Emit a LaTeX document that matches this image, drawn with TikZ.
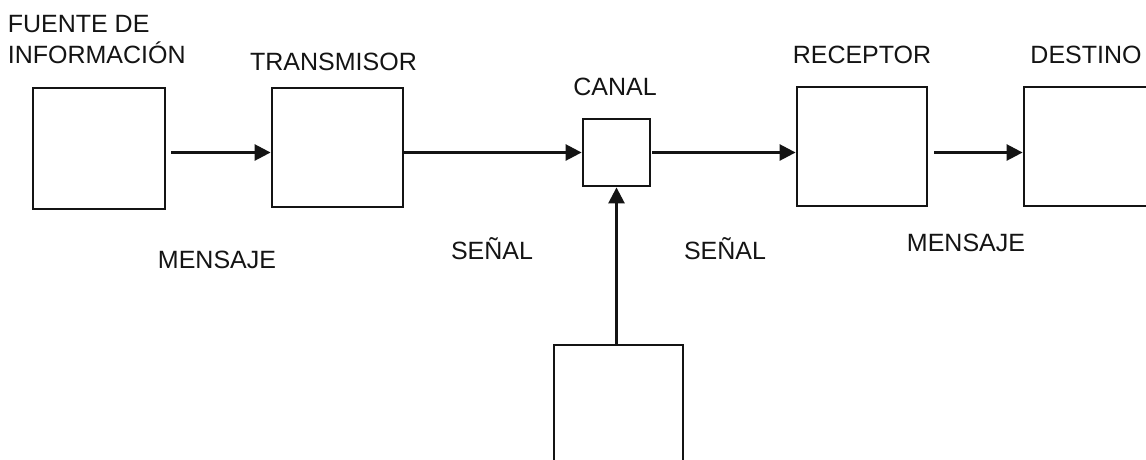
\documentclass[tikz,border=0pt]{standalone}
\usepackage{fontspec}
\setmainfont{Liberation Sans}
\usetikzlibrary{arrows.meta,positioning}
\definecolor{ink}{HTML}{141414}
\tikzset{
  blk/.style={draw=ink,line width=2.8pt,fill=white,inner sep=0pt},
  lbl/.style={inner sep=0pt,font=\fontsize{25}{31}\selectfont,text=ink},
  arr/.style={draw=ink,line width=2.6pt,-{Triangle[length=16pt,width=16pt]}}
}

\begin{document}
\begin{tikzpicture}[x=1pt,y=-1pt,line cap=butt,line join=miter]
  \useasboundingbox (0,0) rectangle (1146,459);
  \clip (0,0) rectangle (1146,459);
  % blocks
  \node[blk,minimum width=132pt,minimum height=121pt] (fuente) at (99,148.5) {};
  \node[blk,minimum width=131pt,minimum height=119pt] (transmisor) at (337.5,147.5) {};
  \node[blk,minimum width=67pt,minimum height=67pt] (canal) at (616.5,152.5) {};
  \node[blk,minimum width=130pt,minimum height=119pt] (receptor) at (862,146.5) {};
  \node[blk,minimum width=130pt,minimum height=119pt] (destino) at (1089,146.5) {};
  \node[blk,minimum width=129pt,minimum height=120pt] (ruido) at (618.5,405) {};
  % titles
  \node[lbl,align=left,anchor=south west,xshift=-24pt,yshift=23pt] (tfuente) at (fuente.north west) {FUENTE DE\\INFORMACIÓN};
  \node[lbl,above=16pt of transmisor,xshift=-4pt] (ttransmisor) {TRANSMISOR};
  \node[lbl,above=22pt of canal,xshift=-1.5pt] (tcanal) {CANAL};
  \node[lbl,above=22pt of receptor] (treceptor) {RECEPTOR};
  \node[lbl,above=22pt of destino,xshift=-3pt] (tdestino) {DESTINO};
  % signals
  \node[lbl,anchor=base] (m1) at (217,268) {MENSAJE};
  \node[lbl,anchor=base] (s1) at (492,259) {SEÑAL};
  \node[lbl,anchor=base] (s2) at (725,259) {SEÑAL};
  \node[lbl,anchor=base] (m2) at (966,251) {MENSAJE};
  % connectors
  \foreach \a/\b/\g in {fuente/transmisor/5pt,transmisor/canal/0pt,canal/receptor/1pt,receptor/destino/6pt}
    \draw[arr,shorten <=\g] (\a.east |- canal) -- (\b.west |- canal);
  \draw[arr] (ruido.north -| canal) -- (canal.south);
\end{tikzpicture}
\end{document}
